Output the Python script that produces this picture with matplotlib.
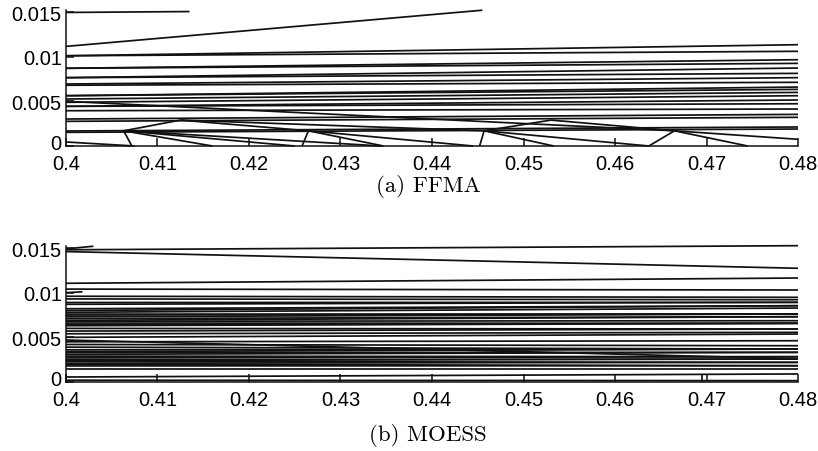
import matplotlib
matplotlib.use("Agg")
import matplotlib.pyplot as plt
from matplotlib.transforms import ScaledTranslation

# ---------------- data ----------------
x_ticks = [0.40, 0.41, 0.42, 0.43, 0.44, 0.45, 0.46, 0.47, 0.48]
x_tick_labels = ["0.4", "0.41", "0.42", "0.43", "0.44", "0.45", "0.46", "0.47", "0.48"]
y_ticks = [0.0, 0.005, 0.01, 0.015]
y_tick_labels = ["0", "0.005", "0.01", "0.015"]

# (a) FFMA: full-span lines, value at x=0.40 and value at x=0.48
ffma_left = [0.0101, 0.0101, 0.0087, 0.0087, 0.00765, 0.00765, 0.00694, 0.00680,
             0.00563, 0.00563, 0.00526, 0.00489, 0.00444, 0.00444, 0.00395,
             0.00302, 0.00276, 0.00168, 0.00153]
ffma_right = [0.01134, 0.0106, 0.00966, 0.00925, 0.00873, 0.00813, 0.00765, 0.00713,
              0.0066, 0.00634, 0.0060, 0.00563, 0.00515, 0.00473, 0.00414,
              0.00354, 0.00321, 0.00213, 0.0019]

# (a) FFMA: partial segments (x0, y0, x1, y1)
ffma_x0 = [0.400, 0.400, 0.400, 0.400, 0.4063, 0.4063, 0.4063, 0.4063, 0.4063,
           0.4125, 0.4125, 0.4265, 0.4265, 0.4265, 0.4457, 0.4457, 0.4457, 0.4457,
           0.4530, 0.4637, 0.4665, 0.4665]
ffma_y0 = [0.01495, 0.01115, 0.00045, 0.0050, 0.0017, 0.0017, 0.0017, 0.0017, 0.0017,
           0.0029, 0.0029, 0.0017, 0.0017, 0.0017, 0.0017, 0.0017, 0.0017, 0.0017,
           0.0029, 0.0, 0.0017, 0.0017]
ffma_x1 = [0.4135, 0.4455, 0.4075, 0.4665, 0.4072, 0.4125, 0.4160, 0.4250, 0.4345,
           0.4265, 0.4457, 0.4258, 0.4347, 0.4445, 0.4452, 0.4530, 0.4533, 0.4637,
           0.4665, 0.4665, 0.4745, 0.4800]
ffma_y1 = [0.01505, 0.0152, 0.0, 0.0017, 0.0, 0.0029, 0.0, 0.0, 0.0,
           0.0017, 0.0017, 0.0, 0.0, 0.0, 0.0, 0.0029, 0.0, 0.0,
           0.0017, 0.0017, 0.0, 0.00075]

# (b) MOESS: full-span lines
moess_left = [0.0148, 0.0146, 0.01105, 0.0104, 0.0096, 0.0093, 0.0089, 0.0087, 0.0082,
              0.0080, 0.0078, 0.0076, 0.0075, 0.0073, 0.0071, 0.0069, 0.0068, 0.0066,
              0.0064, 0.0063, 0.0060, 0.0057, 0.0054, 0.0050, 0.0047, 0.0045, 0.0042,
              0.0039, 0.0036, 0.0034, 0.0033, 0.0031, 0.0029, 0.0027, 0.0025, 0.0024,
              0.0023, 0.0021, 0.0020, 0.0018, 0.00146, 0.00056, 0.0002]
moess_right = [0.01526, 0.01273, 0.01164, 0.0103, 0.00948, 0.00921, 0.00892, 0.00892,
               0.00854, 0.00854, 0.00828, 0.00761, 0.00761, 0.00761, 0.00731, 0.00731,
               0.00686, 0.00657, 0.00657, 0.00657, 0.00593, 0.00593, 0.00556, 0.00537,
               0.0026, 0.00462, 0.00406, 0.00369, 0.00369, 0.00369, 0.00332, 0.00332,
               0.00283, 0.00283, 0.00257, 0.00257, 0.0022, 0.0022, 0.00182, 0.00182,
               0.00146, 0.0009, 0.00015]

# (b) MOESS: partial segments
moess_x0 = [0.400, 0.400, 0.4695]
moess_y0 = [0.0149, 0.0100, 0.0]
moess_x1 = [0.4030, 0.4018, 0.4695]
moess_y1 = [0.0152, 0.0101, 0.0009]

captions = ["(a) FFMA", "(b) MOESS"]

# ---------------- figure ----------------
W, H = 818, 452
fig = plt.figure(figsize=(W / 100, H / 100), dpi=100)

line_kw = dict(color="#111111", lw=1.25, solid_capstyle="butt", clip_on=False)
tick_font = dict(family="Liberation Sans", size=14.5)


def style_axes(ax):
    ax.set_xlim(0.40, 0.48)
    ax.set_ylim(0.0, 0.0152)
    for s in ("top", "right"):
        ax.spines[s].set_visible(False)
    for s in ("left", "bottom"):
        ax.spines[s].set_linewidth(1.1)
        ax.spines[s].set_color("#111111")
    ax.set_xticks(x_ticks)
    ax.set_xticklabels(x_tick_labels, fontdict=tick_font)
    ax.set_yticks(y_ticks)
    ax.set_yticklabels(y_tick_labels, fontdict=tick_font)
    ax.tick_params(axis="both", direction="in", length=5.5, width=1.1, color="#111111")
    ax.tick_params(axis="x", pad=6)
    ax.tick_params(axis="y", pad=3)
    # lift the "0" label a little so it clears the first x label
    zero = ax.get_yticklabels()[0]
    zero.set_transform(zero.get_transform()
                       + ScaledTranslation(0, 4 / 100, fig.dpi_scale_trans))


def draw_panel(ax, left, right, x0, y0, x1, y1):
    for yl, yr in zip(left, right):
        ax.plot([0.40, 0.48], [yl, yr], **line_kw)
    for a, b, c, d in zip(x0, y0, x1, y1):
        ax.plot([a, c], [b, d], **line_kw)
    style_axes(ax)


ax_a = fig.add_axes([66 / W, 1 - 147 / H, 732 / W, 0.3004])
draw_panel(ax_a, ffma_left, ffma_right, ffma_x0, ffma_y0, ffma_x1, ffma_y1)

ax_b = fig.add_axes([66 / W, 1 - 383 / H, 732 / W, 0.3004])
draw_panel(ax_b, moess_left, moess_right, moess_x0, moess_y0, moess_x1, moess_y1)

fig.text(428 / W, 1 - 187 / H, captions[0], family="cmr10", size=16.5,
         ha="center", va="center")
fig.text(428 / W, 1 - 436 / H, captions[1], family="cmr10", size=16.5,
         ha="center", va="center")

fig.savefig("out.png", dpi=100)
